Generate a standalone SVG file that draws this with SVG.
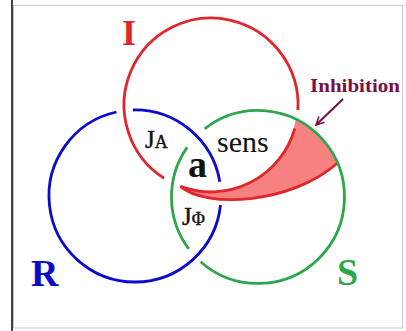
<svg xmlns="http://www.w3.org/2000/svg" width="406" height="331" viewBox="0 0 406 331">
<defs>
<style>
.ring{fill:none;stroke-width:2.8;stroke-linecap:butt}
.r{stroke:#E0262B}
.b{stroke:#0B0BC8}
.g{stroke:#2FA64C}
.serif{font-family:"Liberation Serif","Times New Roman",serif}
</style>
<marker id="ah" viewBox="0 0 10 10" refX="9" refY="5" markerWidth="5" markerHeight="5" orient="auto" markerUnits="strokeWidth">
<path d="M1,1 L9,5 L1,9" fill="none" stroke="#7B1043" stroke-width="1.6"/>
</marker>
</defs>
<rect x="0" y="0" width="406" height="331" fill="#FFFFFF"/>
<rect x="13.5" y="5.5" width="389" height="322.5" fill="none" stroke="#C9CAD2" stroke-width="1"/>
<line x1="12" y1="0" x2="12" y2="331" stroke="#000000" stroke-width="1.5"/>

<g id="inhibition-region">
<path d="M180.4,186.4 A87,87 0 0 0 296,119 A86.5,86.5 0 0 1 337.5,163 C290,205 205,208 180.4,186.4 Z" fill="#F78080"/>
</g>

<g id="connectors">
<path class="ring b" d="M220.5,205 A86,86 0 1 1 116.5,112"/>
<path class="ring b" d="M132.9,110 A86,86 0 0 1 219.8,181.7"/>
<path class="ring r" d="M164.1,178.3 A87,87 0 1 1 297.9,110"/>
<path class="ring r" d="M294.8,128.5 A87,87 0 0 1 180.4,186.4" stroke-width="3.4" stroke-linecap="round"/>
<path class="ring r" d="M180.4,186.4 C205,208 290,205 337.5,163" stroke-width="2.6"/>
<path class="ring g" d="M204.7,128.8 A86.5,86.5 0 1 1 200.6,261.7"/>
<path class="ring g" d="M188.8,248.9 A86.5,86.5 0 0 1 187.1,147.4"/>
<line x1="343" y1="99" x2="316" y2="125" stroke="#7B1043" stroke-width="2" marker-end="url(#ah)"/>
</g>

<g id="node-I"><text class="serif" x="129" y="45" font-size="36" font-weight="bold" fill="#E0262B" text-anchor="middle">I</text></g>
<g id="node-R"><text class="serif" x="31" y="286" font-size="38" font-weight="bold" fill="#0B0BC8">R</text></g>
<g id="node-S"><text class="serif" x="337" y="285" font-size="38" font-weight="bold" fill="#2FA64C">S</text></g>
<g id="label-inhibition"><text class="serif" x="310" y="92" font-size="19" font-weight="bold" fill="#7B1043" textLength="90" lengthAdjust="spacingAndGlyphs">Inhibition</text></g>
<g id="label-JA"><text class="serif" x="145" y="148" font-size="25" fill="#111111" stroke="#111111" stroke-width="0.4">J<tspan font-size="18">A</tspan></text></g>
<g id="label-sens"><text class="serif" x="217" y="152" font-size="30" fill="#111111">sens</text></g>
<g id="label-a"><text class="serif" x="188" y="177" font-size="38" font-weight="bold" fill="#111111">a</text></g>
<g id="label-JPhi"><text class="serif" x="182" y="225" font-size="25" fill="#111111" stroke="#111111" stroke-width="0.4">J<tspan font-size="18">Φ</tspan></text></g>
</svg>
